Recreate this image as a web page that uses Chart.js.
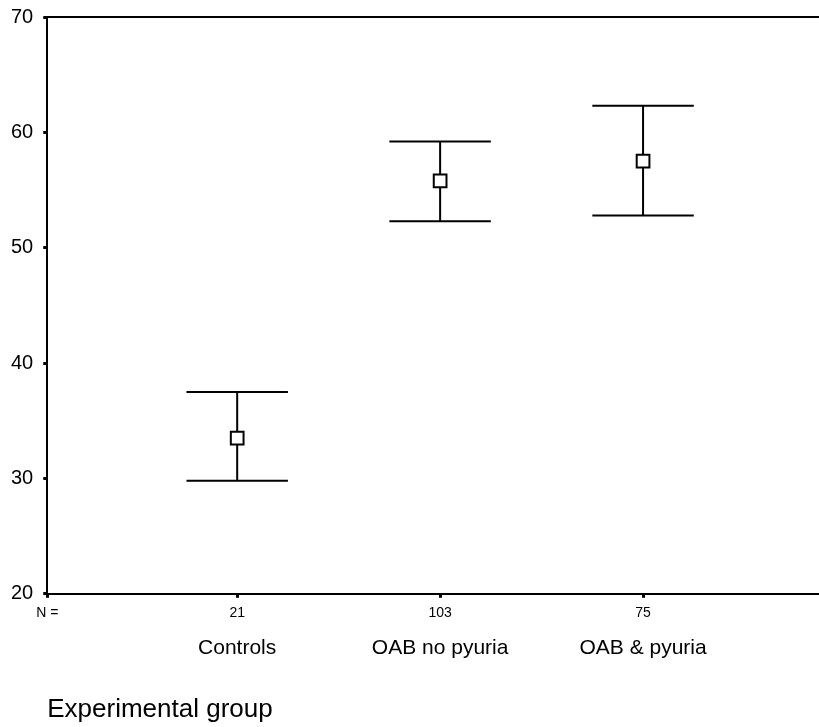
<!DOCTYPE html>
<html>
<head>
<meta charset="utf-8">
<script src="https://cdn.jsdelivr.net/npm/chart.js@4"></script>
<style>
  html, body { margin: 0; padding: 0; background: #fff; overflow: hidden; }
  #wrap { position: relative; width: 819px; height: 727px; }
  #wrap canvas { display: block; }
</style>
</head>
<body>
<div id="wrap"><canvas id="chart"></canvas></div>
<script>
// values
const groups = ['Controls', 'OAB no pyuria', 'OAB & pyuria'];
const groupN = ['21', '103', '75'];
const means = [33.5, 55.8, 57.5];
const lower = [29.8, 52.3, 52.8];
const upper = [37.5, 59.2, 62.3];
const yTicks = [20, 30, 40, 50, 60, 70];

const FONT = '"Liberation Sans", Arial, sans-serif';
const X_MIN = 0.064, X_MAX = 3.867;
const CAP = 0.25; // half width of the caps, in x units

// whiskers drawn below the squares
const errorBars = {
  id: 'errorBars',
  beforeDatasetsDraw(chart) {
    const {ctx, scales: {x, y}} = chart;
    ctx.save();
    ctx.strokeStyle = '#000';
    ctx.lineWidth = 2;
    means.forEach((m, i) => {
      const px = x.getPixelForValue(i + 1);
      const lo = y.getPixelForValue(lower[i]);
      const hi = y.getPixelForValue(upper[i]);
      const l = x.getPixelForValue(i + 1 - CAP);
      const r = x.getPixelForValue(i + 1 + CAP);
      ctx.beginPath();
      ctx.moveTo(px, hi); ctx.lineTo(px, lo);
      ctx.moveTo(l, hi); ctx.lineTo(r, hi);
      ctx.moveTo(l, lo); ctx.lineTo(r, lo);
      ctx.stroke();
    });
    ctx.restore();
  }
};

const tickMarks = {
  display: true,
  drawOnChartArea: false,
  drawTicks: true,
  tickLength: 4,
  lineWidth: 3,
  tickColor: '#000'
};

// labels may hang over the plot frame, like in the original
const noOverhang = s => {
  s.paddingTop = 0; s.paddingBottom = 0;
  s.paddingLeft = 0; s.paddingRight = 0;
};

new Chart(document.getElementById('chart'), {
  type: 'scatter',
  data: {
    datasets: [{
      data: means.map((m, i) => ({x: i + 1, y: m})),
      pointStyle: 'rect',
      pointRadius: 9,
      pointHoverRadius: 9,
      pointBackgroundColor: '#fff',
      pointBorderColor: '#000',
      pointBorderWidth: 2
    }]
  },
  plugins: [errorBars],
  options: {
    animation: false,
    responsive: true,
    maintainAspectRatio: false,
    events: [],
    layout: {autoPadding: false, padding: {left: 1, top: 17, right: 0, bottom: 0}},
    plugins: {legend: {display: false}, tooltip: {enabled: false}},
    scales: {
      y: {
        min: 20, max: 70,
        afterBuildTicks: s => { s.ticks = yTicks.map(v => ({value: v})); },
        afterFit: noOverhang,
        ticks: {color: '#000', padding: 10, font: {family: FONT, size: 20}},
        grid: tickMarks,
        border: {display: true, color: '#000', width: 2}
      },
      xTop: {
        type: 'linear', position: 'top',
        min: X_MIN, max: X_MAX,
        afterFit: noOverhang,
        ticks: {display: false},
        grid: {display: false, drawTicks: false},
        border: {display: true, color: '#000', width: 2}
      },
      x: {
        type: 'linear', position: 'bottom',
        min: X_MIN, max: X_MAX,
        afterBuildTicks: s => { s.ticks = [X_MIN, 1, 2, 3].map(v => ({value: v})); },
        afterFit: noOverhang,
        ticks: {
          color: '#000', padding: 7, autoSkip: false, maxRotation: 0,
          font: {family: FONT, size: 14},
          callback: (v, i) => i === 0 ? 'N =' : groupN[i - 1]
        },
        grid: tickMarks,
        border: {display: true, color: '#000', width: 2}
      },
      xCat: {
        type: 'linear', position: 'bottom',
        min: X_MIN, max: X_MAX,
        afterBuildTicks: s => { s.ticks = [1, 2, 3].map(v => ({value: v})); },
        afterFit: noOverhang,
        ticks: {
          color: '#000', padding: 7, autoSkip: false, maxRotation: 0,
          font: {family: FONT, size: 21},
          callback: (v, i) => groups[i]
        },
        grid: {display: false, drawTicks: false},
        border: {display: false},
        title: {
          display: true, text: 'Experimental group', align: 'start',
          color: '#000', font: {family: FONT, size: 26},
          padding: {top: 26, bottom: 2}
        }
      }
    }
  }
});
</script>
</body>
</html>
